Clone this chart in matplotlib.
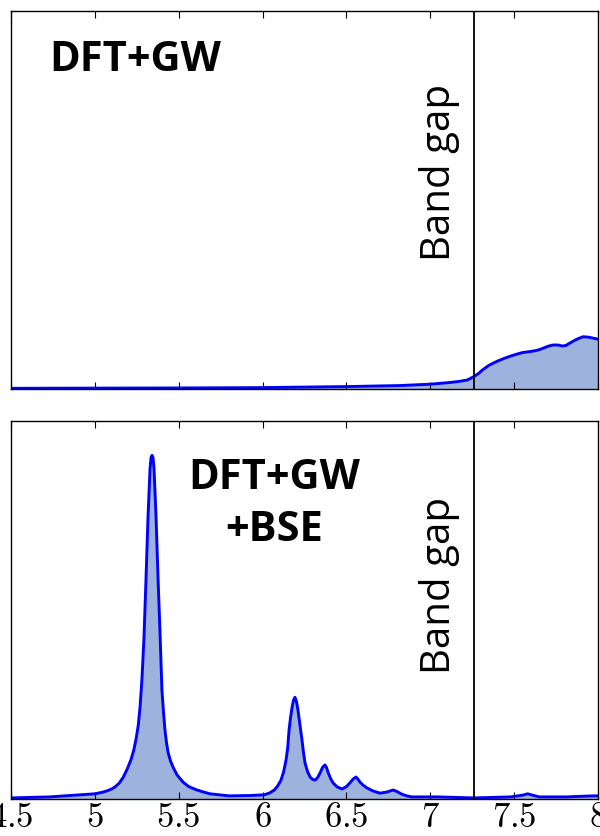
import matplotlib
matplotlib.use("Agg")
import matplotlib.pyplot as plt
from matplotlib.ticker import FixedLocator, FuncFormatter

plt.rcParams['mathtext.fontset'] = 'cm'

# absorption spectra, energy (eV) vs intensity (arb. units)
gw_energy = [4.50, 5.51, 6.00, 6.50, 6.82, 7.00, 7.12, 7.17, 7.22, 7.26,
             7.29, 7.31, 7.35, 7.40, 7.44, 7.48, 7.52, 7.55, 7.61, 7.64,
             7.67, 7.70, 7.73, 7.76, 7.79, 7.81, 7.83, 7.87, 7.91, 7.94,
             7.96, 8.00]
gw_intensity = [0.2, 0.3, 0.4, 0.7, 1.0, 1.4, 1.9, 2.2, 2.6, 3.6,
                4.6, 5.5, 6.9, 8.1, 8.9, 9.6, 10.2, 10.6, 11.0, 11.3,
                11.8, 12.4, 12.8, 12.8, 12.5, 12.7, 13.3, 14.4, 15.2, 15.1,
                14.9, 14.5]

bse_energy = [4.50, 4.73, 4.91, 5.00, 5.04, 5.07, 5.10, 5.12, 5.145, 5.168,
              5.192, 5.216, 5.232, 5.247, 5.259, 5.270, 5.281, 5.293,
              5.305, 5.317, 5.329, 5.335, 5.341, 5.347, 5.353, 5.365, 5.377, 5.389,
              5.400, 5.409, 5.418, 5.427, 5.436, 5.45, 5.466, 5.49, 5.526, 5.56,
              5.609, 5.65, 5.687, 5.80, 5.92, 6.009, 6.04, 6.07, 6.09, 6.11,
              6.125, 6.14, 6.15, 6.158, 6.167, 6.176, 6.185, 6.193, 6.202, 6.211,
              6.223, 6.235, 6.244, 6.253, 6.268, 6.283, 6.298, 6.313, 6.328, 6.343,
              6.358, 6.372, 6.381, 6.390, 6.405, 6.420, 6.445, 6.474, 6.50, 6.521,
              6.54, 6.557, 6.568, 6.581, 6.60, 6.623, 6.66, 6.70, 6.74, 6.778,
              6.80, 6.83, 6.86, 6.89, 7.04, 7.26, 7.48, 7.55, 7.58, 7.61,
              7.65, 7.81, 7.97, 8.00]
bse_intensity = [0.3, 0.6, 1.2, 1.5, 1.9, 2.3, 2.9, 3.5, 4.6, 6.2,
                 8.6, 11.5, 14.2, 17.8, 21.5, 27.0, 35.0, 47.0,
                 64.0, 82.0, 96.0, 99.3, 100.0, 99.3, 96.0, 82.0, 64.0, 47.7,
                 31.7, 25.5, 20.1, 16.5, 13.7, 11.2, 9.3, 7.0, 4.9, 3.6,
                 2.6, 2.0, 1.5, 0.9, 1.0, 1.2, 1.7, 2.6, 3.8, 5.5,
                 7.8, 11.3, 15.0, 20.1, 23.8, 26.7, 28.8, 29.6, 28.4, 25.9,
                 21.5, 17.2, 13.5, 10.5, 8.0, 6.4, 5.7, 5.5, 6.2, 7.6,
                 9.2, 9.9, 9.2, 7.8, 6.0, 4.7, 3.5, 2.9, 3.6, 4.7,
                 5.8, 6.4, 5.8, 4.9, 4.0, 3.2, 2.3, 1.7, 2.0, 2.6,
                 2.2, 1.4, 0.9, 0.6, 0.6, 0.3, 0.6, 1.1, 1.5, 1.1,
                 0.6, 0.6, 0.9, 0.9]

band_gap = 7.26
xticks = [4.5, 5, 5.5, 6, 6.5, 7, 7.5, 8]

fig = plt.figure(figsize=(6, 8.36), dpi=100)
ax1 = fig.add_axes([0.0183, 0.5347, 0.9784, 0.4522])
ax2 = fig.add_axes([0.0183, 0.0443, 0.9784, 0.4522])

fill_col = '#9db2dc'
line_col = '#0000ff'

for ax, en, it in [(ax1, gw_energy, gw_intensity), (ax2, bse_energy, bse_intensity)]:
    ax.fill_between(en, 0, it, color=fill_col, lw=0)
    ax.plot(en, it, color=line_col, lw=2.1, solid_joinstyle='round')
    ax.axvline(band_gap, color='black', lw=1.3)
    ax.set_xlim(4.5, 8)
    ax.set_ylim(0, 110)
    ax.set_yticks([])
    ax.xaxis.set_major_locator(FixedLocator(xticks))
    ax.tick_params(axis='x', direction='in', top=True, bottom=True, length=5,
                   width=0.8, pad=1, labelsize=25)
    for s in ax.spines.values():
        s.set_linewidth(1.0)

ax1.tick_params(axis='x', labelbottom=False)
ax2.xaxis.set_major_formatter(FuncFormatter(lambda v, p: '$%g$' % v))

ax1.text(5.24, 0.87, 'DFT+GW', transform=ax1.get_xaxis_transform(),
         ha='center', va='center', fontsize=30, fontweight='bold', family='Open Sans')
ax2.text(6.07, 0.78, 'DFT+GW\n+BSE', transform=ax2.get_xaxis_transform(),
         ha='center', va='center', fontsize=30, fontweight='bold', family='Open Sans',
         linespacing=1.35)

ax1.text(7.18, 0.574, 'Band gap', transform=ax1.get_xaxis_transform(), rotation=90,
         ha='right', va='center', fontsize=29, family='Open Sans')
ax2.text(7.18, 0.566, 'Band gap', transform=ax2.get_xaxis_transform(), rotation=90,
         ha='right', va='center', fontsize=29, family='Open Sans')

fig.savefig('out.png', dpi=100)
